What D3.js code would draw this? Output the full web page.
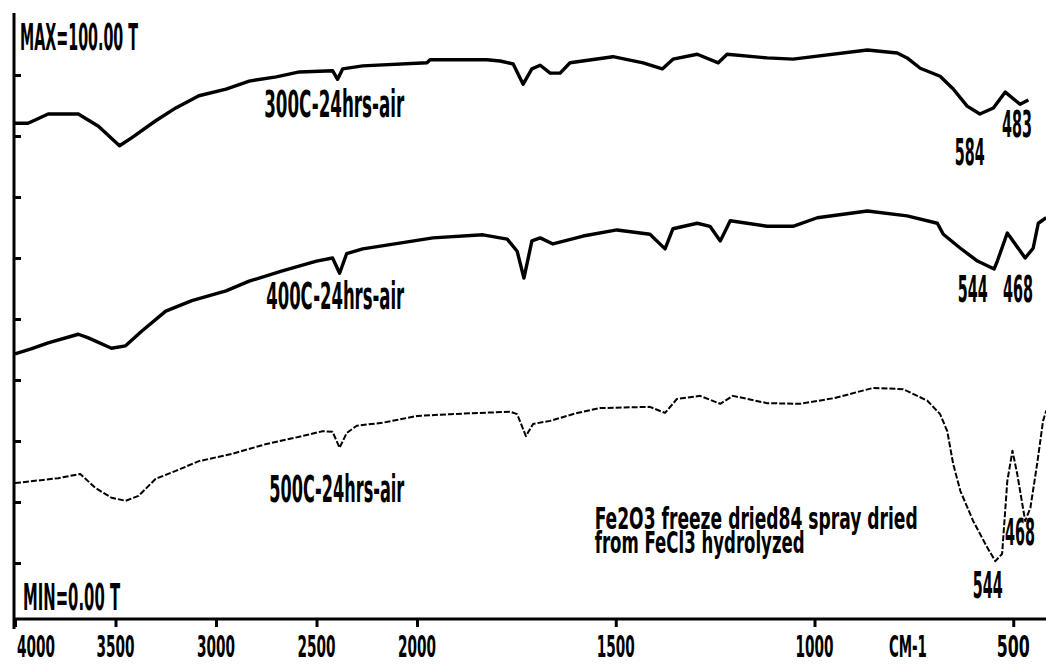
<!DOCTYPE html>
<html>
<head>
<meta charset="utf-8">
<script src="https://cdn.jsdelivr.net/npm/d3@7"></script>
<style>
  html, body { margin: 0; padding: 0; background: #fff; }
  svg { display: block; }
  .plot-text { font-family: 'DejaVu Sans Condensed', 'DejaVu Sans', sans-serif; font-stretch: condensed; font-weight: bold; fill: #000; }
</style>
</head>
<body>
<svg id="chart" width="1046" height="665"></svg>
<script>
// IR transmission spectra (%T vs wavenumber, cm-1) of Fe2O3 calcined 24 h in air
const wn300 = [4000, 3935, 3835, 3685, 3585, 3480, 3420, 3300, 3200, 3085, 2950, 2835, 2700, 2585, 2420, 2395, 2370, 2270, 1975, 1967, 1824, 1791, 1758, 1733, 1711, 1690, 1665, 1640, 1615, 1507, 1431, 1383, 1356, 1295, 1242, 1220, 1119, 1054, 867, 792, 767, 734, 684, 651, 616, 584, 550, 520, 483, 462];
const t300  = [82.1, 82.1, 83.6, 83.6, 81.6, 78.4, 79.7, 82.5, 84.6, 86.6, 87.7, 89.0, 89.7, 90.5, 90.7, 89.3, 91.0, 91.5, 92.0, 92.5, 92.5, 92.3, 91.8, 88.5, 91.0, 91.6, 90.3, 90.3, 92.0, 93.0, 92.0, 91.0, 92.6, 93.4, 92.0, 93.4, 92.8, 92.6, 94.1, 93.6, 92.8, 91.1, 89.8, 87.7, 84.9, 83.6, 84.6, 87.2, 85.2, 85.9];

const wn400 = [4000, 3920, 3835, 3685, 3635, 3520, 3450, 3370, 3250, 3120, 2950, 2835, 2670, 2500, 2420, 2385, 2350, 2270, 2150, 1960, 1834, 1773, 1748, 1731, 1711, 1690, 1658, 1582, 1497, 1414, 1376, 1356, 1295, 1263, 1237, 1212, 1119, 1054, 993, 867, 767, 691, 676, 633, 590, 548, 540, 515, 470, 450, 437, 417];
const t400  = [44.3, 45.1, 46.1, 47.5, 46.9, 45.2, 45.6, 48.0, 51.3, 53.0, 54.6, 56.2, 57.9, 59.5, 60.0, 57.5, 60.7, 61.5, 62.1, 63.3, 63.8, 63.1, 61.1, 56.7, 62.8, 63.3, 62.3, 63.6, 64.6, 63.9, 61.5, 64.8, 65.7, 65.2, 62.8, 66.1, 65.2, 65.2, 66.6, 67.7, 66.9, 65.7, 63.9, 61.6, 59.5, 58.2, 59.5, 64.1, 60.0, 61.6, 65.7, 66.6];

const wn500 = [4000, 3920, 3785, 3675, 3600, 3520, 3450, 3385, 3300, 3200, 3085, 2920, 2750, 2585, 2470, 2420, 2385, 2350, 2300, 2170, 2000, 1917, 1766, 1748, 1726, 1708, 1665, 1597, 1539, 1414, 1376, 1346, 1288, 1237, 1205, 1119, 1036, 953, 852, 777, 716, 684, 666, 651, 633, 601, 565, 545, 528, 515, 502, 490, 470, 457, 440, 425, 417];
const t500  = [23.1, 23.4, 23.9, 24.6, 22.3, 20.7, 20.2, 21.0, 23.8, 25.1, 26.7, 27.9, 29.5, 30.7, 31.6, 31.5, 28.9, 31.3, 32.5, 33.0, 34.1, 34.4, 34.8, 34.4, 30.8, 32.8, 33.3, 34.6, 35.4, 35.6, 34.6, 36.9, 37.4, 36.1, 37.4, 36.2, 36.1, 37.0, 38.7, 38.5, 36.6, 34.4, 31.6, 26.2, 21.8, 16.9, 12.5, 10.3, 11.5, 23.4, 28.4, 24.6, 16.9, 19.0, 26.2, 33.3, 35.0];

const seriesNames = ["300C-24hrs-air", "400C-24hrs-air", "500C-24hrs-air"];
const xTickValues = [4000, 3500, 3000, 2500, 2000, 1500, 1000, 500];
const yTickValues = [10, 20, 30, 40, 50, 60, 70, 80, 90];
const xUnitLabel = "CM-1";
const maxLabel = "MAX=100.00 T";
const minLabel = "MIN=0.00 T";
const noteLines = ["Fe2O3 freeze dried84 spray dried", "from FeCl3 hydrolyzed"];
// peak annotations: [series index, wavenumber, label]
const peakLabels = [[0, 584, "584"], [0, 483, "483"], [1, 544, "544"], [1, 468, "468"], [2, 544, "544"], [2, 468, "468"]];

const svg = d3.select("#chart");

// Grating instrument: scale doubles below 2000 cm-1
const x = d3.scaleLinear().domain([4000, 2000, 400]).range([15, 417, 1053]);
const y = d3.scaleLinear().domain([0, 100]).range([624, 14]);

const axisY = 619;

function plotText(sel, str, px, py, size, len, anchor) {
  const t = sel.append("text")
    .attr("class", "plot-text")
    .attr("x", px).attr("y", py)
    .attr("font-size", size)
    .attr("text-anchor", anchor || "start")
    .text(str);
  if (len) t.attr("textLength", len).attr("lengthAdjust", "spacingAndGlyphs");
  return t;
}

// Left axis with inward ticks
const yAxis = d3.axisRight(y).tickValues(yTickValues).tickSize(7).tickFormat("");
const gy = svg.append("g").attr("transform", "translate(14,0)").call(yAxis);
gy.select(".domain").remove();
gy.selectAll(".tick line").attr("stroke", "#000").attr("stroke-width", 3);
svg.append("line").attr("x1", 14).attr("x2", 14).attr("y1", 13).attr("y2", 629)
  .attr("stroke", "#000").attr("stroke-width", 3);

// Bottom axis
const xAxis = d3.axisBottom(x).tickValues(xTickValues).tickSize(8).tickFormat("");
const gx = svg.append("g").attr("transform", `translate(0,${axisY})`).call(xAxis);
gx.select(".domain").remove();
gx.selectAll(".tick line").attr("stroke", "#000").attr("stroke-width", 3);
svg.append("line").attr("x1", 13).attr("x2", 1046).attr("y1", axisY).attr("y2", axisY)
  .attr("stroke", "#000").attr("stroke-width", 3);

xTickValues.forEach((v, i) => {
  const s = String(v);
  const w = s.length === 4 ? 38 : 33;
  if (i === 0) plotText(svg, s, x(v) + 2, 657, 31, w, "start");
  else plotText(svg, s, x(v), 657, 31, w, "middle");
});
plotText(svg, xUnitLabel, x(765), 657, 31, 38, "middle");

plotText(svg, maxLabel, 20, 50, 37, 118);
plotText(svg, minLabel, 23, 610, 37, 97);

// Spectra
const line = d3.line().x(d => x(d[0])).y(d => y(d[1])).curve(d3.curveLinear);
const series = [
  { wn: wn300, t: t300, width: 3.4, dash: null },
  { wn: wn400, t: t400, width: 3.4, dash: null },
  { wn: wn500, t: t500, width: 2, dash: "6 2" }
];
series.forEach(s => {
  const pts = s.wn.map((w, i) => [w, s.t[i]]);
  const p = svg.append("path").datum(pts)
    .attr("d", line)
    .attr("fill", "none")
    .attr("stroke", "#000")
    .attr("stroke-width", s.width)
    .attr("stroke-linejoin", "round");
  if (s.dash) p.attr("stroke-dasharray", s.dash);
});

// Series labels
plotText(svg, seriesNames[0], x(2760), 117, 37, 140);
plotText(svg, seriesNames[1], x(2750), 309, 37, 138);
plotText(svg, seriesNames[2], x(2735), 502, 37, 135);

// Sample note
plotText(svg, noteLines[0], x(1553), 529, 30, 323);
plotText(svg, noteLines[1], x(1553), 553, 30, 210);

// Peak position labels, placed below the nearest point of each band
const peakOffsets = [[-10, 51], [-3, 33], [-23, 33], [-8, 44], [-8, 37], [-6, 24]];
const seriesT = [t300, t400, t500];
const seriesW = [wn300, wn400, wn500];
peakLabels.forEach((pk, i) => {
  const [si, w, lab] = pk;
  const idx = d3.leastIndex(seriesW[si], v => Math.abs(v - w));
  const tv = seriesT[si][idx];
  plotText(svg, lab, x(w) + peakOffsets[i][0], y(tv) + peakOffsets[i][1], 38, 30, "middle");
});
</script>
</body>
</html>
